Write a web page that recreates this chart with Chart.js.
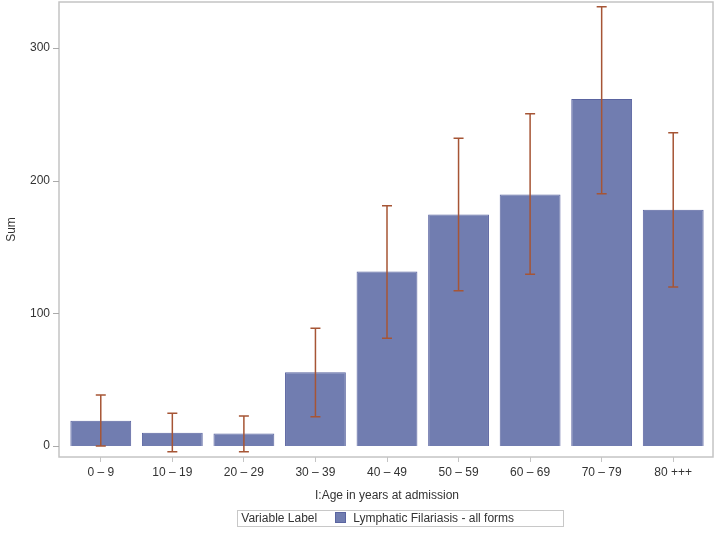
<!DOCTYPE html>
<html>
<head>
<meta charset="utf-8">
<script src="https://cdn.jsdelivr.net/npm/chart.js@4"></script>
<style>
  body { margin: 0; background: #fff; }
  #wrap { position: relative; width: 717px; height: 533px; }
  #legend {
    position: absolute; left: 237px; top: 510px; width: 327px; height: 17px;
    border: 1px solid #c8c8c8; box-sizing: border-box;
    font: 12px "Liberation Sans", Arial, sans-serif; color: #333;
    line-height: 15px; white-space: nowrap;
  }
  #legend .sw {
    display: inline-block; width: 9px; height: 9px; background: #717db0;
    border: 1px solid #5a64a0; vertical-align: -1px; margin: 0 7px 0 18px;
  }
</style>
</head>
<body>
<div id="wrap">
  <canvas id="chart" width="717" height="533"></canvas>
  <div id="legend">&nbsp;Variable Label<span class="sw"></span>Lymphatic Filariasis - all forms</div>
</div>
<script>
// age groups and sums
const ageGroups = ['0 – 9', '10 – 19', '20 – 29', '30 – 39', '40 – 49', '50 – 59', '60 – 69', '70 – 79', '80 +++'];
const sums = [19, 10, 9.5, 55.5, 131.5, 174.5, 189.5, 261.5, 178];
const upper = [38.5, 24.6, 22.6, 88.7, 181, 232, 250.4, 331, 236];
const lower = [0, -4.3, -4.3, 22, 81.2, 117, 129.4, 190.1, 119.8];
const yTicks = [0, 100, 200, 300];

/* 誤差線 + 外框 */
const extras = {
    id: 'extras',
    afterDatasetsDraw(chart) {
        const { ctx, chartArea, scales } = chart;
        const x = scales.x, y = scales.y;
        ctx.save();
        // frame
        ctx.strokeStyle = '#c4c4c4';
        ctx.lineWidth = 1.5;
        const fl = chartArea.left - 6, fr = chartArea.right + 4;
        ctx.strokeRect(fl, chartArea.top, fr - fl, chartArea.bottom - chartArea.top);
        // y tick marks
        ctx.strokeStyle = '#aaa';
        ctx.lineWidth = 1;
        yTicks.forEach(v => {
            const py = Math.round(y.getPixelForValue(v)) + 0.5;
            ctx.beginPath();
            ctx.moveTo(fl - 6, py);
            ctx.lineTo(fl, py);
            ctx.stroke();
        });
        // error bars
        ctx.strokeStyle = '#a65535';
        ctx.lineWidth = 1.5;
        sums.forEach((s, i) => {
            const px = x.getPixelForValue(i);
            const pt = y.getPixelForValue(upper[i]);
            const pb = y.getPixelForValue(lower[i]);
            ctx.beginPath();
            ctx.moveTo(px, pt); ctx.lineTo(px, pb);
            ctx.moveTo(px - 5, pt); ctx.lineTo(px + 5, pt);
            ctx.moveTo(px - 5, pb); ctx.lineTo(px + 5, pb);
            ctx.stroke();
        });
        ctx.restore();
    }
};

const font = { family: '"Liberation Sans", Arial, sans-serif', size: 12 };

new Chart(document.getElementById('chart'), {
    type: 'bar',
    data: {
        labels: ageGroups,
        datasets: [{
            label: 'Lymphatic Filariasis - all forms',
            data: sums,
            backgroundColor: '#717db0',
            borderColor: '#5a64a0',
            borderWidth: 1,
            categoryPercentage: 1,
            barPercentage: 0.85
        }]
    },
    options: {
        responsive: false,
        animation: false,
        layout: { padding: { left: 0, right: 8, top: 2, bottom: 30 } },
        plugins: { legend: { display: false }, tooltip: { enabled: false } },
        scales: {
            x: {
                afterFit(scale) { scale.height = 46; },
                border: { display: false },
                grid: { display: true, drawOnChartArea: false, offset: false, tickLength: 5, color: '#c4c4c4' },
                ticks: { color: '#333', font: font, padding: 3, maxRotation: 0 },
                title: { display: true, text: 'I:Age in years at admission', color: '#333', font: font, padding: { top: 0, bottom: 0 } }
            },
            y: {
                min: -8.3,
                max: 334.6,
                afterFit(scale) { scale.width = 65; scale.paddingTop = 0; scale.paddingBottom = 0; },
                afterBuildTicks(scale) { scale.ticks = yTicks.map(v => ({ value: v })); },
                border: { display: false },
                grid: { display: false, drawTicks: false },
                ticks: { color: '#333', font: font, padding: 15 },
                title: { display: true, text: 'Sum', color: '#333', font: font }
            }
        }
    },
    plugins: [extras]
});
</script>
</body>
</html>
